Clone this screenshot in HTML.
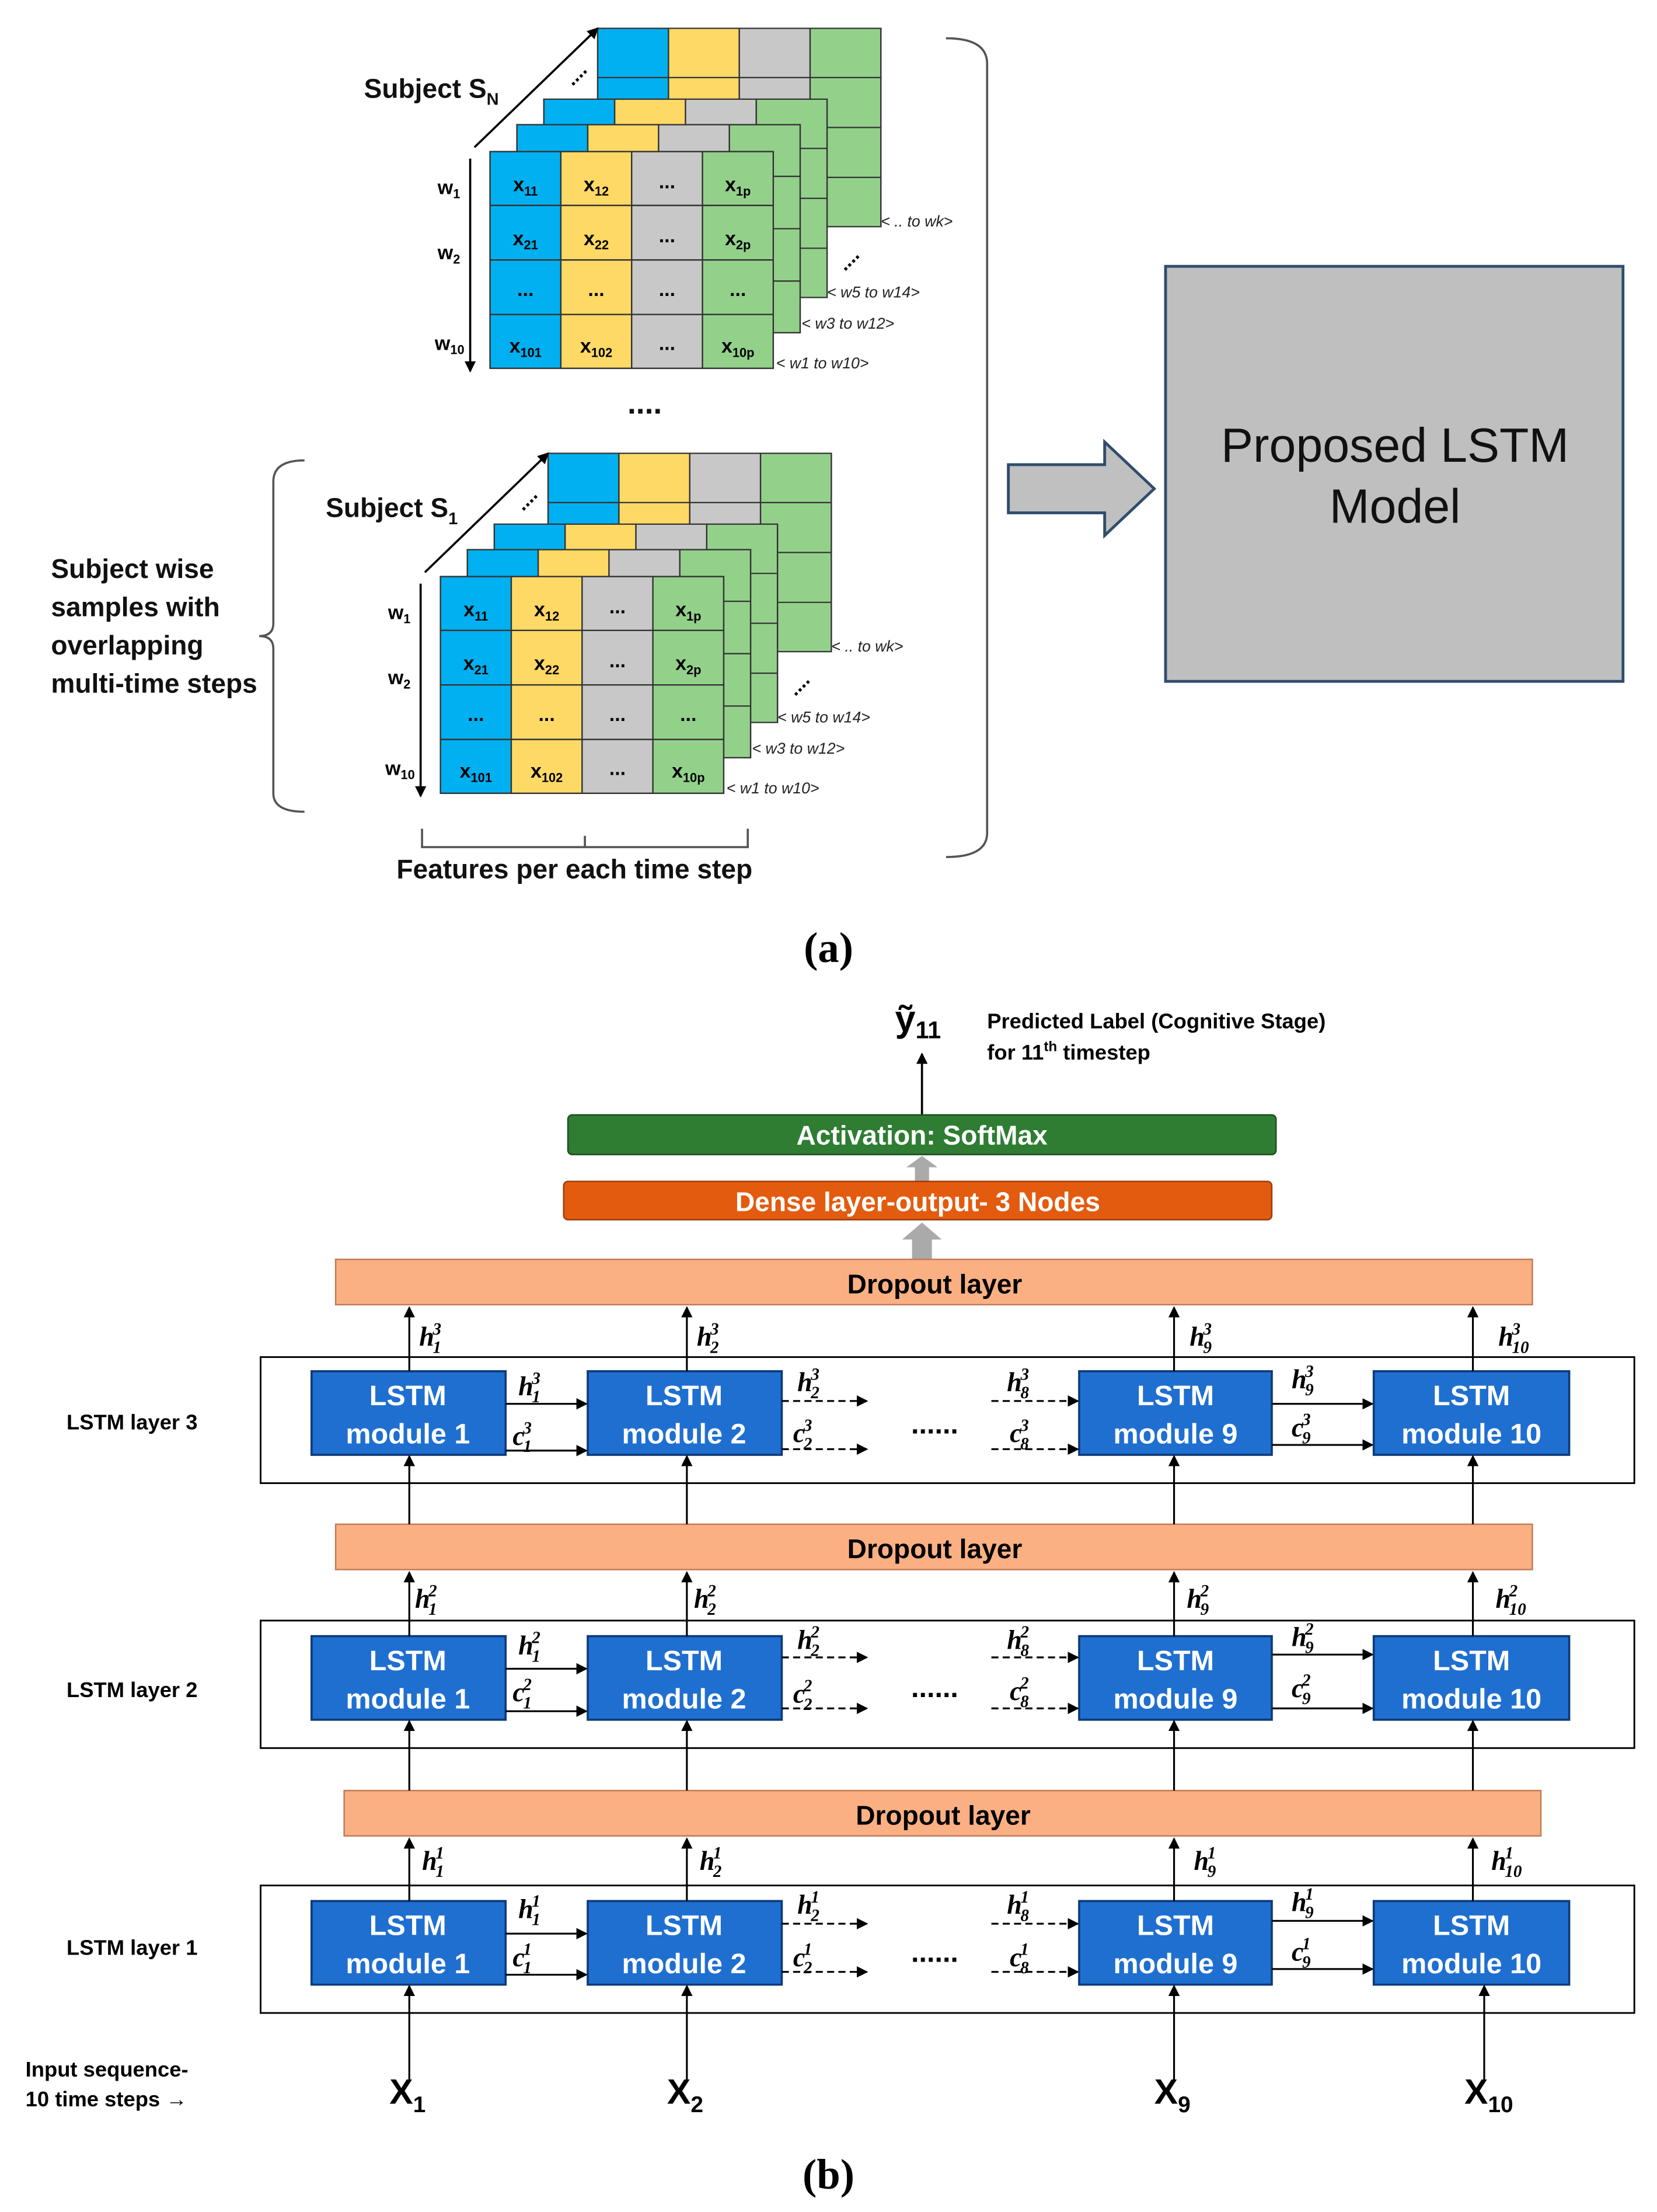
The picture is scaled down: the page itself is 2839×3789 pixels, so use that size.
<!DOCTYPE html>
<html><head><meta charset="utf-8"><style>html,body{margin:0;padding:0;background:#fff}svg{display:block}</style></head><body>
<svg width="2839" height="3789" viewBox="0 0 1170 1561.5" xmlns="http://www.w3.org/2000/svg" font-family="Liberation Sans, sans-serif">
<defs>
<g id="grid">
<rect x="0" y="0" width="50" height="153" fill="#00b0f0"/>
<rect x="50" y="0" width="50" height="153" fill="#ffd966"/>
<rect x="100" y="0" width="50" height="153" fill="#c8c8c8"/>
<rect x="150" y="0" width="50" height="153" fill="#93d18b"/>
<g stroke="#333" stroke-width="1" fill="none">
<rect x="0" y="0" width="200" height="153"/>
<line x1="50" y1="0" x2="50" y2="153"/><line x1="100" y1="0" x2="100" y2="153"/><line x1="150" y1="0" x2="150" y2="153"/>
<line x1="0" y1="38" x2="200" y2="38"/><line x1="0" y1="76.5" x2="200" y2="76.5"/><line x1="0" y1="115" x2="200" y2="115"/>
</g></g>
<marker id="ar" markerWidth="8" markerHeight="8" refX="7" refY="4" orient="auto" markerUnits="userSpaceOnUse"><path d="M0,0 L8,4 L0,8 z" fill="#000"/></marker>
</defs>

<g id="stack">
<use href="#grid" transform="translate(422,20) scale(1,0.915)"/>
<use href="#grid" transform="translate(384,70) scale(1,0.915)"/>
<use href="#grid" transform="translate(365,88) scale(1,0.96)"/>
<use href="#grid" x="346" y="107"/>
<line x1="335" y1="104" x2="422" y2="20" stroke="#000" stroke-width="1.5" marker-end="url(#ar)"/>
<text x="398" y="58" font-size="14" font-weight="bold" transform="rotate(-45 405 52)">....</text>
<text x="590" y="188" font-size="14" font-weight="bold" transform="rotate(-45 598 182)">....</text>
<line x1="332" y1="112" x2="332" y2="262" stroke="#000" stroke-width="1.5" marker-end="url(#ar)"/>
<g font-size="14" font-weight="bold">
<text x="309" y="137">w<tspan font-size="9" dy="3">1</tspan></text>
<text x="309" y="183">w<tspan font-size="9" dy="3">2</tspan></text>
<text x="307" y="247">w<tspan font-size="9" dy="3">10</tspan></text>
</g>
<g font-size="11" font-style="italic" fill="#222">
<text x="548" y="260">&lt; w1 to w10&gt;</text>
<text x="566" y="232">&lt; w3 to w12&gt;</text>
<text x="584" y="210">&lt; w5 to w14&gt;</text>
<text x="622" y="160">&lt; .. to wk&gt;</text>
</g>
<g font-size="14" font-weight="bold" text-anchor="middle">
<text x="371" y="135">x<tspan font-size="9" dy="3">11</tspan></text>
<text x="421" y="135">x<tspan font-size="9" dy="3">12</tspan></text>
<text x="471" y="133">...</text>
<text x="521" y="135">x<tspan font-size="9" dy="3">1p</tspan></text>
<text x="371" y="173">x<tspan font-size="9" dy="3">21</tspan></text>
<text x="421" y="173">x<tspan font-size="9" dy="3">22</tspan></text>
<text x="471" y="171">...</text>
<text x="521" y="173">x<tspan font-size="9" dy="3">2p</tspan></text>
<text x="371" y="209">...</text>
<text x="421" y="209">...</text>
<text x="471" y="209">...</text>
<text x="521" y="209">...</text>
<text x="371" y="249">x<tspan font-size="9" dy="3">101</tspan></text>
<text x="421" y="249">x<tspan font-size="9" dy="3">102</tspan></text>
<text x="471" y="247">...</text>
<text x="521" y="249">x<tspan font-size="9" dy="3">10p</tspan></text>
</g>
</g>
<g transform="translate(-35,300)">
<use href="#grid" transform="translate(422,20) scale(1,0.915)"/>
<use href="#grid" transform="translate(384,70) scale(1,0.915)"/>
<use href="#grid" transform="translate(365,88) scale(1,0.96)"/>
<use href="#grid" x="346" y="107"/>
<line x1="335" y1="104" x2="422" y2="20" stroke="#000" stroke-width="1.5" marker-end="url(#ar)"/>
<text x="398" y="58" font-size="14" font-weight="bold" transform="rotate(-45 405 52)">....</text>
<text x="590" y="188" font-size="14" font-weight="bold" transform="rotate(-45 598 182)">....</text>
<line x1="332" y1="112" x2="332" y2="262" stroke="#000" stroke-width="1.5" marker-end="url(#ar)"/>
<g font-size="14" font-weight="bold">
<text x="309" y="137">w<tspan font-size="9" dy="3">1</tspan></text>
<text x="309" y="183">w<tspan font-size="9" dy="3">2</tspan></text>
<text x="307" y="247">w<tspan font-size="9" dy="3">10</tspan></text>
</g>
<g font-size="11" font-style="italic" fill="#222">
<text x="548" y="260">&lt; w1 to w10&gt;</text>
<text x="566" y="232">&lt; w3 to w12&gt;</text>
<text x="584" y="210">&lt; w5 to w14&gt;</text>
<text x="622" y="160">&lt; .. to wk&gt;</text>
</g>
<g font-size="14" font-weight="bold" text-anchor="middle">
<text x="371" y="135">x<tspan font-size="9" dy="3">11</tspan></text>
<text x="421" y="135">x<tspan font-size="9" dy="3">12</tspan></text>
<text x="471" y="133">...</text>
<text x="521" y="135">x<tspan font-size="9" dy="3">1p</tspan></text>
<text x="371" y="173">x<tspan font-size="9" dy="3">21</tspan></text>
<text x="421" y="173">x<tspan font-size="9" dy="3">22</tspan></text>
<text x="471" y="171">...</text>
<text x="521" y="173">x<tspan font-size="9" dy="3">2p</tspan></text>
<text x="371" y="209">...</text>
<text x="421" y="209">...</text>
<text x="471" y="209">...</text>
<text x="521" y="209">...</text>
<text x="371" y="249">x<tspan font-size="9" dy="3">101</tspan></text>
<text x="421" y="249">x<tspan font-size="9" dy="3">102</tspan></text>
<text x="471" y="247">...</text>
<text x="521" y="249">x<tspan font-size="9" dy="3">10p</tspan></text>
</g>
</g>
<g font-size="19" font-weight="bold" fill="#111">
<text x="257" y="69">Subject S<tspan font-size="12" dy="5">N</tspan></text>
<text x="230" y="365">Subject S<tspan font-size="12" dy="5">1</tspan></text>
<text x="443" y="292" font-size="22">....</text>
<text x="36" y="408">Subject wise</text>
<text x="36" y="435">samples with</text>
<text x="36" y="462">overlapping</text>
<text x="36" y="489">multi-time steps</text>
<text x="280" y="620">Features per each time step</text>
</g>
<g fill="none" stroke="#555" stroke-width="1.5">
<path d="M668,27 Q697,27 697,45 L697,588 Q697,605 668,605"/>
<path d="M215,325 Q193,325 193,340 L193,440 Q193,449 183,449 Q193,449 193,458 L193,560 Q193,573 215,573"/>
<path d="M298,585 L298,598 L528,598 L528,585 M413,598 L413,590"/>
</g>
<path d="M712,328 L780,328 L780,312 L815,345 L780,378 L780,362 L712,362 Z" fill="#c0c0c0" stroke="#2f4d6e" stroke-width="2"/>
<rect x="823" y="188" width="323" height="293" fill="#bfbfbf" stroke="#2f4d6e" stroke-width="2"/>
<g font-size="34" text-anchor="middle" fill="#111"><text x="985" y="326">Proposed LSTM</text><text x="985" y="369">Model</text></g>
<text x="585" y="679" font-family="Liberation Serif, serif" font-size="30" font-weight="bold" text-anchor="middle">(a)</text>

<text x="632" y="728" font-size="26" font-weight="bold">ỹ<tspan font-size="17" dy="5">11</tspan></text>
<g font-size="15" font-weight="bold"><text x="697" y="726">Predicted Label (Cognitive Stage)</text><text x="697" y="748">for 11<tspan font-size="10" dy="-6">th</tspan><tspan dy="6"> timestep</tspan></text></g>
<line x1="651" y1="787" x2="651" y2="744" stroke="#000" stroke-width="1.5" marker-end="url(#ar)"/>
<rect x="401" y="787" width="500" height="28" rx="3" fill="#2e7d32" stroke="#1b4d1f"/>
<text x="651" y="808" font-size="19" font-weight="bold" fill="#fff" text-anchor="middle">Activation: SoftMax</text>
<path d="M646,834 L646,824 L640,824 L651,816 L662,824 L656,824 L656,834 Z" fill="#aaa"/>
<rect x="398" y="834" width="500" height="27" rx="3" fill="#e35b0e" stroke="#9c3b08"/>
<text x="648" y="855" font-size="19" font-weight="bold" fill="#fff" text-anchor="middle">Dense layer-output- 3 Nodes</text>
<path d="M644,889 L644,875 L637,875 L651,863 L665,875 L658,875 L658,889 Z" fill="#aaa"/>

<g font-size="19" font-weight="bold" text-anchor="middle">
<rect x="237" y="889" width="845" height="32" fill="#fbb084" stroke="#c07a55"/><text x="660" y="913">Dropout layer</text>
<rect x="237" y="1076" width="845" height="32" fill="#fbb084" stroke="#c07a55"/><text x="660" y="1100">Dropout layer</text>
<rect x="243" y="1264" width="845" height="32" fill="#fbb084" stroke="#c07a55"/><text x="666" y="1288">Dropout layer</text>
</g>

<rect x="184" y="958" width="970" height="89" fill="none" stroke="#000" stroke-width="1.2"/>
<rect x="184" y="1144" width="970" height="90" fill="none" stroke="#000" stroke-width="1.2"/>
<rect x="184" y="1331" width="970" height="90" fill="none" stroke="#000" stroke-width="1.2"/>
<g font-size="15" font-weight="bold"><text x="47" y="1009">LSTM layer 3</text><text x="47" y="1198">LSTM layer 2</text><text x="47" y="1380">LSTM layer 1</text>
<text x="18" y="1466">Input sequence-</text><text x="18" y="1487">10 time steps →</text></g>

<g fill="#1f6fd1" stroke="#0d3a78" stroke-width="1.5">
<rect x="220" y="968" width="137" height="59"/><rect x="415" y="968" width="137" height="59"/><rect x="762" y="968" width="136" height="59"/><rect x="970" y="968" width="138" height="59"/>
<rect x="220" y="1155" width="137" height="59"/><rect x="415" y="1155" width="137" height="59"/><rect x="762" y="1155" width="136" height="59"/><rect x="970" y="1155" width="138" height="59"/>
<rect x="220" y="1342" width="137" height="59"/><rect x="415" y="1342" width="137" height="59"/><rect x="762" y="1342" width="136" height="59"/><rect x="970" y="1342" width="138" height="59"/>
</g>
<g font-size="20" font-weight="bold" fill="#fff" text-anchor="middle">
<text x="288" y="992">LSTM</text><text x="288" y="1019">module 1</text><text x="483" y="992">LSTM</text><text x="483" y="1019">module 2</text><text x="830" y="992">LSTM</text><text x="830" y="1019">module 9</text><text x="1039" y="992">LSTM</text><text x="1039" y="1019">module 10</text>
<text x="288" y="1179">LSTM</text><text x="288" y="1206">module 1</text><text x="483" y="1179">LSTM</text><text x="483" y="1206">module 2</text><text x="830" y="1179">LSTM</text><text x="830" y="1206">module 9</text><text x="1039" y="1179">LSTM</text><text x="1039" y="1206">module 10</text>
<text x="288" y="1366">LSTM</text><text x="288" y="1393">module 1</text><text x="483" y="1366">LSTM</text><text x="483" y="1393">module 2</text><text x="830" y="1366">LSTM</text><text x="830" y="1393">module 9</text><text x="1039" y="1366">LSTM</text><text x="1039" y="1393">module 10</text>
</g>

<g stroke="#000" stroke-width="1.3" marker-end="url(#ar)">
<line x1="289" y1="1468" x2="289" y2="1402"/><line x1="485" y1="1468" x2="485" y2="1402"/><line x1="829" y1="1468" x2="829" y2="1402"/><line x1="1048" y1="1468" x2="1048" y2="1402"/>
<line x1="289" y1="1342" x2="289" y2="1298"/><line x1="485" y1="1342" x2="485" y2="1298"/><line x1="829" y1="1342" x2="829" y2="1298"/><line x1="1040" y1="1342" x2="1040" y2="1298"/>
<line x1="289" y1="1264" x2="289" y2="1215"/><line x1="485" y1="1264" x2="485" y2="1215"/><line x1="829" y1="1264" x2="829" y2="1215"/><line x1="1040" y1="1264" x2="1040" y2="1215"/>
<line x1="289" y1="1155" x2="289" y2="1110"/><line x1="485" y1="1155" x2="485" y2="1110"/><line x1="829" y1="1155" x2="829" y2="1110"/><line x1="1040" y1="1155" x2="1040" y2="1110"/>
<line x1="289" y1="1076" x2="289" y2="1028"/><line x1="485" y1="1076" x2="485" y2="1028"/><line x1="829" y1="1076" x2="829" y2="1028"/><line x1="1040" y1="1076" x2="1040" y2="1028"/>
<line x1="289" y1="968" x2="289" y2="923"/><line x1="485" y1="968" x2="485" y2="923"/><line x1="829" y1="968" x2="829" y2="923"/><line x1="1040" y1="968" x2="1040" y2="923"/>
</g>
<g stroke="#000" stroke-width="1.3" marker-end="url(#ar)">
<line x1="357" y1="991" x2="414" y2="991"/><line x1="357" y1="1024" x2="414" y2="1024"/><line x1="898" y1="991" x2="969" y2="991"/><line x1="898" y1="1020" x2="969" y2="1020"/>
<line x1="357" y1="1178" x2="414" y2="1178"/><line x1="357" y1="1208" x2="414" y2="1208"/><line x1="898" y1="1168" x2="969" y2="1168"/><line x1="898" y1="1206" x2="969" y2="1206"/>
<line x1="357" y1="1365" x2="414" y2="1365"/><line x1="357" y1="1394" x2="414" y2="1394"/><line x1="898" y1="1356" x2="969" y2="1356"/><line x1="898" y1="1390" x2="969" y2="1390"/>
</g>
<g stroke="#000" stroke-width="1.3" stroke-dasharray="5,3" marker-end="url(#ar)">
<line x1="552" y1="989" x2="612" y2="989"/><line x1="552" y1="1023" x2="612" y2="1023"/><line x1="700" y1="989" x2="761" y2="989"/><line x1="700" y1="1023" x2="761" y2="1023"/>
<line x1="552" y1="1170" x2="612" y2="1170"/><line x1="552" y1="1206" x2="612" y2="1206"/><line x1="700" y1="1170" x2="761" y2="1170"/><line x1="700" y1="1206" x2="761" y2="1206"/>
<line x1="552" y1="1358" x2="612" y2="1358"/><line x1="552" y1="1392" x2="612" y2="1392"/><line x1="700" y1="1358" x2="761" y2="1358"/><line x1="700" y1="1392" x2="761" y2="1392"/>
</g>
<g font-size="20" font-weight="bold" text-anchor="middle"><text x="660" y="1012">......</text><text x="660" y="1198">......</text><text x="660" y="1385">......</text></g>

<g font-family="Liberation Serif, serif" font-style="italic" font-weight="bold" font-size="19">
<text x="296" y="950">h<tspan font-size="12" dx="-1" dy="-8">3</tspan><tspan font-size="12" dx="-6" dy="13">1</tspan></text>
<text x="492" y="950">h<tspan font-size="12" dx="-1" dy="-8">3</tspan><tspan font-size="12" dx="-6" dy="13">2</tspan></text>
<text x="840" y="950">h<tspan font-size="12" dx="-1" dy="-8">3</tspan><tspan font-size="12" dx="-6" dy="13">9</tspan></text>
<text x="1058" y="950">h<tspan font-size="12" dx="-1" dy="-8">3</tspan><tspan font-size="12" dx="-6" dy="13">10</tspan></text>
<text x="366" y="985">h<tspan font-size="12" dx="-1" dy="-8">3</tspan><tspan font-size="12" dx="-6" dy="13">1</tspan></text>
<text x="362" y="1020">c<tspan font-size="12" dx="-1" dy="-8">3</tspan><tspan font-size="12" dx="-6" dy="13">1</tspan></text>
<text x="563" y="982">h<tspan font-size="12" dx="-1" dy="-8">3</tspan><tspan font-size="12" dx="-6" dy="13">2</tspan></text>
<text x="560" y="1018">c<tspan font-size="12" dx="-1" dy="-8">3</tspan><tspan font-size="12" dx="-6" dy="13">2</tspan></text>
<text x="711" y="982">h<tspan font-size="12" dx="-1" dy="-8">3</tspan><tspan font-size="12" dx="-6" dy="13">8</tspan></text>
<text x="713" y="1018">c<tspan font-size="12" dx="-1" dy="-8">3</tspan><tspan font-size="12" dx="-6" dy="13">8</tspan></text>
<text x="912" y="980">h<tspan font-size="12" dx="-1" dy="-8">3</tspan><tspan font-size="12" dx="-6" dy="13">9</tspan></text>
<text x="912" y="1014">c<tspan font-size="12" dx="-1" dy="-8">3</tspan><tspan font-size="12" dx="-6" dy="13">9</tspan></text>

<text x="293" y="1135">h<tspan font-size="12" dx="-1" dy="-8">2</tspan><tspan font-size="12" dx="-6" dy="13">1</tspan></text>
<text x="490" y="1135">h<tspan font-size="12" dx="-1" dy="-8">2</tspan><tspan font-size="12" dx="-6" dy="13">2</tspan></text>
<text x="838" y="1135">h<tspan font-size="12" dx="-1" dy="-8">2</tspan><tspan font-size="12" dx="-6" dy="13">9</tspan></text>
<text x="1056" y="1135">h<tspan font-size="12" dx="-1" dy="-8">2</tspan><tspan font-size="12" dx="-6" dy="13">10</tspan></text>
<text x="366" y="1168">h<tspan font-size="12" dx="-1" dy="-8">2</tspan><tspan font-size="12" dx="-6" dy="13">1</tspan></text>
<text x="362" y="1201">c<tspan font-size="12" dx="-1" dy="-8">2</tspan><tspan font-size="12" dx="-6" dy="13">1</tspan></text>
<text x="563" y="1164">h<tspan font-size="12" dx="-1" dy="-8">2</tspan><tspan font-size="12" dx="-6" dy="13">2</tspan></text>
<text x="560" y="1202">c<tspan font-size="12" dx="-1" dy="-8">2</tspan><tspan font-size="12" dx="-6" dy="13">2</tspan></text>
<text x="711" y="1164">h<tspan font-size="12" dx="-1" dy="-8">2</tspan><tspan font-size="12" dx="-6" dy="13">8</tspan></text>
<text x="713" y="1200">c<tspan font-size="12" dx="-1" dy="-8">2</tspan><tspan font-size="12" dx="-6" dy="13">8</tspan></text>
<text x="912" y="1162">h<tspan font-size="12" dx="-1" dy="-8">2</tspan><tspan font-size="12" dx="-6" dy="13">9</tspan></text>
<text x="912" y="1198">c<tspan font-size="12" dx="-1" dy="-8">2</tspan><tspan font-size="12" dx="-6" dy="13">9</tspan></text>

<text x="298" y="1320">h<tspan font-size="12" dx="-1" dy="-8">1</tspan><tspan font-size="12" dx="-6" dy="13">1</tspan></text>
<text x="494" y="1320">h<tspan font-size="12" dx="-1" dy="-8">1</tspan><tspan font-size="12" dx="-6" dy="13">2</tspan></text>
<text x="843" y="1320">h<tspan font-size="12" dx="-1" dy="-8">1</tspan><tspan font-size="12" dx="-6" dy="13">9</tspan></text>
<text x="1053" y="1320">h<tspan font-size="12" dx="-1" dy="-8">1</tspan><tspan font-size="12" dx="-6" dy="13">10</tspan></text>
<text x="366" y="1354">h<tspan font-size="12" dx="-1" dy="-8">1</tspan><tspan font-size="12" dx="-6" dy="13">1</tspan></text>
<text x="362" y="1388">c<tspan font-size="12" dx="-1" dy="-8">1</tspan><tspan font-size="12" dx="-6" dy="13">1</tspan></text>
<text x="563" y="1351">h<tspan font-size="12" dx="-1" dy="-8">1</tspan><tspan font-size="12" dx="-6" dy="13">2</tspan></text>
<text x="560" y="1388">c<tspan font-size="12" dx="-1" dy="-8">1</tspan><tspan font-size="12" dx="-6" dy="13">2</tspan></text>
<text x="711" y="1351">h<tspan font-size="12" dx="-1" dy="-8">1</tspan><tspan font-size="12" dx="-6" dy="13">8</tspan></text>
<text x="713" y="1388">c<tspan font-size="12" dx="-1" dy="-8">1</tspan><tspan font-size="12" dx="-6" dy="13">8</tspan></text>
<text x="912" y="1349">h<tspan font-size="12" dx="-1" dy="-8">1</tspan><tspan font-size="12" dx="-6" dy="13">9</tspan></text>
<text x="912" y="1384">c<tspan font-size="12" dx="-1" dy="-8">1</tspan><tspan font-size="12" dx="-6" dy="13">9</tspan></text>
</g>

<g font-size="25" font-weight="bold">
<text x="275" y="1485">X<tspan font-size="16" dy="6">1</tspan></text>
<text x="471" y="1485">X<tspan font-size="16" dy="6">2</tspan></text>
<text x="815" y="1485">X<tspan font-size="16" dy="6">9</tspan></text>
<text x="1034" y="1485">X<tspan font-size="16" dy="6">10</tspan></text>
</g>
<text x="585" y="1545" font-family="Liberation Serif, serif" font-size="30" font-weight="bold" text-anchor="middle">(b)</text>
</svg>
</body></html>
